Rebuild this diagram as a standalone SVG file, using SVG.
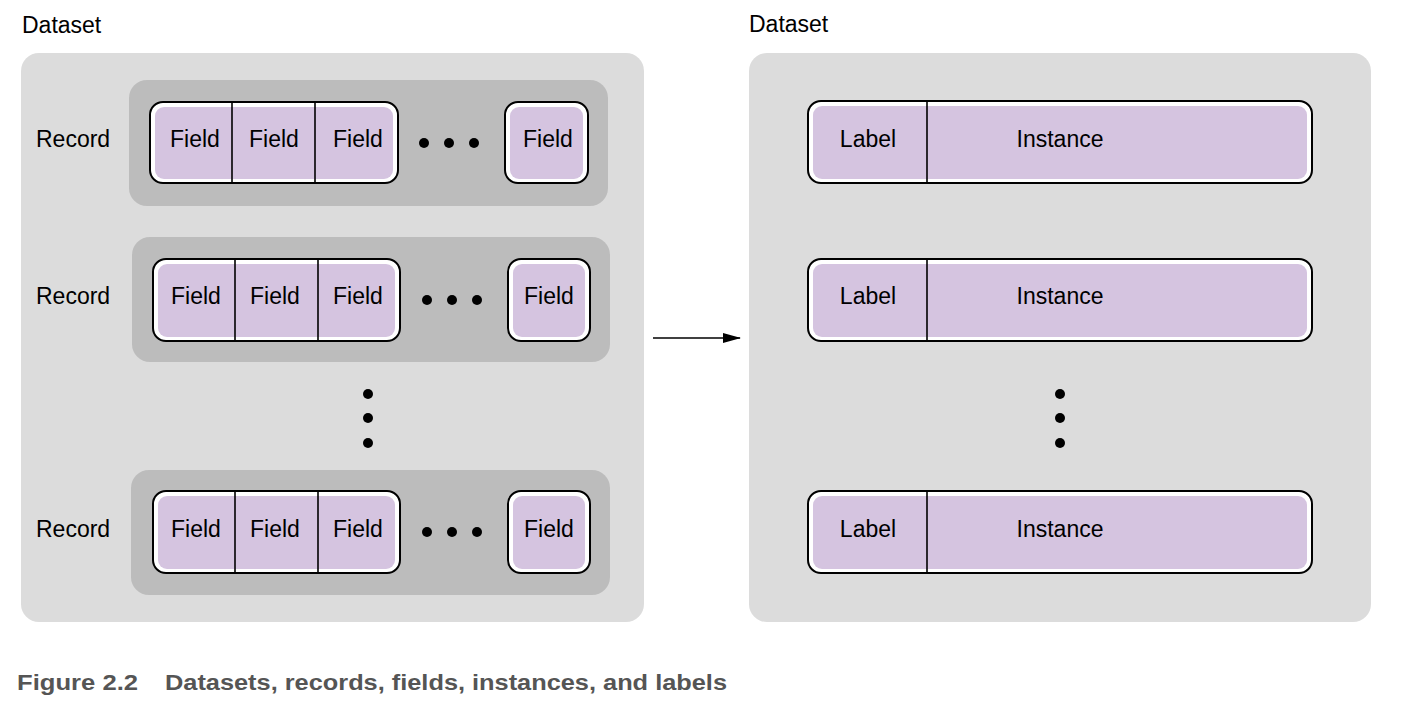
<svg xmlns="http://www.w3.org/2000/svg" width="1417" height="714" viewBox="0 0 1417 714">
<style>
.t{font-family:"Liberation Sans",Arial,sans-serif;font-size:23px;fill:#000}
.c{text-anchor:middle}
.panel{fill:#dcdcdc}
.rec{fill:#bcbcbc}
.outer{fill:#fff;stroke:#000;stroke-width:2}
.inner{fill:#d5c4e0}
.div{stroke:#000;stroke-width:1.6}
.cap{font-family:"Liberation Sans Narrow","Liberation Sans",Arial,sans-serif;font-weight:bold;font-size:22px;fill:#555}
</style>
<defs>
<marker id="ah" markerWidth="18" markerHeight="10" refX="17" refY="5" orient="auto" markerUnits="userSpaceOnUse">
<path d="M0,0 L18,5 L0,10 Z" fill="#000"/>
</marker>
</defs>
<rect width="1417" height="714" fill="#fff"/>

<g id="dataset-left">
<text class="t" x="22" y="33">Dataset</text>
<rect class="panel" x="21" y="53" width="623" height="569" rx="18"/>
</g>

<g id="record-1">
<rect class="rec" x="129" y="80" width="479" height="126" rx="18"/>
<text class="t" x="36" y="147">Record</text>
<rect class="outer" x="150" y="102" width="248" height="81" rx="13"/>
<rect class="inner" x="155" y="107" width="238" height="72" rx="9"/>
<line class="div" x1="232" y1="102" x2="232" y2="183"/>
<line class="div" x1="315" y1="102" x2="315" y2="183"/>
<text class="t c" x="195" y="147">Field</text>
<text class="t c" x="274" y="147">Field</text>
<text class="t c" x="358" y="147">Field</text>
<circle cx="424" cy="143" r="5"/><circle cx="449" cy="143" r="5"/><circle cx="474" cy="143" r="5"/>
<rect class="outer" x="505" y="102" width="83" height="81" rx="13"/>
<rect class="inner" x="510" y="107" width="73" height="72" rx="9"/>
<text class="t c" x="548" y="147">Field</text>
</g>

<g id="record-2">
<rect class="rec" x="132" y="237" width="478" height="125" rx="18"/>
<text class="t" x="36" y="304">Record</text>
<rect class="outer" x="153" y="259" width="247" height="82" rx="13"/>
<rect class="inner" x="158" y="264" width="237" height="73" rx="9"/>
<line class="div" x1="235" y1="259" x2="235" y2="341"/>
<line class="div" x1="318" y1="259" x2="318" y2="341"/>
<text class="t c" x="196" y="304">Field</text>
<text class="t c" x="275" y="304">Field</text>
<text class="t c" x="358" y="304">Field</text>
<circle cx="427" cy="300" r="5"/><circle cx="452" cy="300" r="5"/><circle cx="477" cy="300" r="5"/>
<rect class="outer" x="508" y="259" width="82" height="82" rx="13"/>
<rect class="inner" x="513" y="264" width="72" height="73" rx="9"/>
<text class="t c" x="549" y="304">Field</text>
</g>

<g id="vdots-left">
<circle cx="368" cy="394" r="5"/><circle cx="368" cy="418" r="5"/><circle cx="368" cy="443" r="5"/>
</g>

<g id="record-3">
<rect class="rec" x="131" y="470" width="479" height="125" rx="18"/>
<text class="t" x="36" y="537">Record</text>
<rect class="outer" x="153" y="491" width="247" height="82" rx="13"/>
<rect class="inner" x="158" y="496" width="237" height="73" rx="9"/>
<line class="div" x1="235" y1="491" x2="235" y2="573"/>
<line class="div" x1="318" y1="491" x2="318" y2="573"/>
<text class="t c" x="196" y="537">Field</text>
<text class="t c" x="275" y="537">Field</text>
<text class="t c" x="358" y="537">Field</text>
<circle cx="427" cy="532" r="5"/><circle cx="452" cy="532" r="5"/><circle cx="477" cy="532" r="5"/>
<rect class="outer" x="508" y="491" width="82" height="82" rx="13"/>
<rect class="inner" x="513" y="496" width="72" height="73" rx="9"/>
<text class="t c" x="549" y="537">Field</text>
</g>

<g id="dataset-right">
<text class="t" x="749" y="32">Dataset</text>
<rect class="panel" x="749" y="53" width="622" height="569" rx="18"/>
</g>

<g id="instance-1">
<rect class="outer" x="808" y="101" width="504" height="82" rx="13"/>
<rect class="inner" x="813" y="106" width="494" height="73" rx="9"/>
<line class="div" x1="927" y1="101" x2="927" y2="183"/>
<text class="t c" x="868" y="147">Label</text>
<text class="t c" x="1060" y="147">Instance</text>
</g>

<g id="instance-2">
<rect class="outer" x="808" y="259" width="504" height="82" rx="13"/>
<rect class="inner" x="813" y="264" width="494" height="73" rx="9"/>
<line class="div" x1="927" y1="259" x2="927" y2="341"/>
<text class="t c" x="868" y="304">Label</text>
<text class="t c" x="1060" y="304">Instance</text>
</g>

<g id="vdots-right">
<circle cx="1060" cy="394" r="5"/><circle cx="1060" cy="418" r="5"/><circle cx="1060" cy="443" r="5"/>
</g>

<g id="instance-3">
<rect class="outer" x="808" y="491" width="504" height="82" rx="13"/>
<rect class="inner" x="813" y="496" width="494" height="73" rx="9"/>
<line class="div" x1="927" y1="491" x2="927" y2="573"/>
<text class="t c" x="868" y="537">Label</text>
<text class="t c" x="1060" y="537">Instance</text>
</g>

<g id="connectors">
<line x1="653" y1="338" x2="740" y2="338" stroke="#000" stroke-width="1.6" marker-end="url(#ah)"/>
</g>

<g id="caption">
<text class="cap" x="17" y="690" textLength="121" lengthAdjust="spacingAndGlyphs">Figure 2.2</text>
<text class="cap" x="165" y="690" textLength="562" lengthAdjust="spacingAndGlyphs">Datasets, records, fields, instances, and labels</text>
</g>
</svg>
